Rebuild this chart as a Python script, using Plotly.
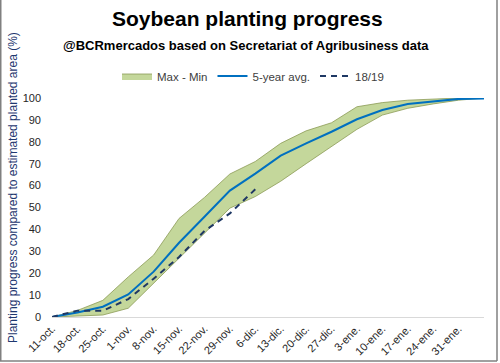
import plotly.graph_objects as go

categories = ["11-oct.", "18-oct.", "25-oct.", "1-nov.", "8-nov.", "15-nov.", "22-nov.", "29-nov.",
              "6-dic.", "13-dic.", "20-dic.", "27-dic.", "3-ene.", "10-ene.", "17-ene.", "24-ene.",
              "31-ene.", ""]
max_vals = [0, 3, 7.6, 18.3, 28.3, 45, 54.6, 65.3, 71, 79.3, 85, 88.7, 96, 97.9, 99, 99.5, 100, 100]
min_vals = [0, 0.3, 0.9, 4, 15.5, 27, 38.5, 49.7, 55, 62, 70, 78, 85.7, 92.2, 95.3, 97.3, 99, 100]
avg_vals = [0, 2.1, 4.7, 10.3, 20.7, 33.9, 45.8, 57.7, 65.5, 73.7, 79.3, 84.6, 90.3, 94.5, 97.3, 98.3, 99.6, 99.8]
cur_vals = [0, 2.9, 2.8, 8.2, 17.5, 27.4, 39.3, 47.3, 58.3]
y_ticks = [0, 10, 20, 30, 40, 50, 60, 70, 80, 90, 100]

xs = list(range(len(categories)))

W, H = 500, 363
L, R, T, B = 52, 16, 98, 46
pw, ph = W - L - R, H - T - B

def px_x(x):
    return (x - L) / pw

def px_y(y):
    return (H - B - y) / ph

fig = go.Figure()
fig.add_trace(go.Scatter(x=xs, y=min_vals, mode="lines",
                         line=dict(color="#8C9A55", width=0.8), showlegend=False, hoverinfo="skip"))
fig.add_trace(go.Scatter(x=xs, y=max_vals, mode="lines", fill="tonexty", fillcolor="#C4D79B",
                         line=dict(color="#8C9A55", width=0.8), name="Max - Min"))
fig.add_trace(go.Scatter(x=xs, y=avg_vals, mode="lines",
                         line=dict(color="#0070C0", width=2), name="5-year avg."))
fig.add_trace(go.Scatter(x=xs[:len(cur_vals)], y=cur_vals, mode="lines",
                         line=dict(color="#1F3864", width=2, dash="6px,5px"), name="18/19"))

font_family = "Liberation Sans, Arial, sans-serif"
narrow = "Liberation Sans Narrow, Liberation Sans, Arial, sans-serif"

fig.update_layout(
    width=W, height=H,
    margin=dict(l=L, r=R, t=T, b=B, autoexpand=False),
    paper_bgcolor="white", plot_bgcolor="white",
    font=dict(family=font_family, size=11, color="#262626"),
    showlegend=True,
    legend=dict(orientation="h", x=px_x(253), y=px_y(76), xanchor="center", yanchor="middle",
                font=dict(size=11.5, color="#404040"), bgcolor="rgba(0,0,0,0)",
                traceorder="normal", itemwidth=30),
    xaxis=dict(range=[0, len(categories) - 1], tickmode="array", tickvals=xs, ticktext=categories,
               tickangle=-45, showgrid=False, zeroline=False, showline=True,
               linecolor="#D9D9D9", linewidth=1, ticks="", tickfont=dict(size=11, color="#262626"),
               fixedrange=True, automargin=False),
    yaxis=dict(range=[0, 100], tickmode="array", tickvals=y_ticks, showgrid=False, zeroline=False,
               showline=False, ticks="", ticklabelstandoff=10,
               tickfont=dict(size=11, color="#262626"), fixedrange=True, automargin=False),
    annotations=[
        dict(text="<b>Soybean planting progress</b>", xref="paper", yref="paper",
             x=px_x(247), y=px_y(18), xanchor="center", yanchor="middle", showarrow=False,
             font=dict(family=narrow, size=21, color="black")),
        dict(text="<b>@BCRmercados based on Secretariat of Agribusiness data</b>", xref="paper", yref="paper",
             x=px_x(246), y=px_y(45), xanchor="center", yanchor="middle", showarrow=False,
             font=dict(family=narrow, size=13, color="black")),
        dict(text="Planting progress compared to estimated planted area (%)", xref="paper", yref="paper",
             x=px_x(13), y=px_y(188), xanchor="center", yanchor="middle", showarrow=False, textangle=-90,
             font=dict(family=font_family, size=12, color="#1F3870")),
    ],
    shapes=[
        dict(type="line", xref="paper", yref="paper", x0=px_x(0.75), x1=px_x(0.75), y0=px_y(0), y1=px_y(361),
             line=dict(color="#808080", width=1.5)),
        dict(type="line", xref="paper", yref="paper", x0=px_x(497), x1=px_x(497), y0=px_y(0), y1=px_y(361),
             line=dict(color="#808080", width=1.5)),
        dict(type="line", xref="paper", yref="paper", x0=px_x(0), x1=px_x(497), y0=px_y(361), y1=px_y(361),
             line=dict(color="#808080", width=1.5)),
    ],
)

fig.write_html("out.html", config={"displayModeBar": False},
               post_script="document.body.style.margin='0';document.body.style.overflow='hidden';")
